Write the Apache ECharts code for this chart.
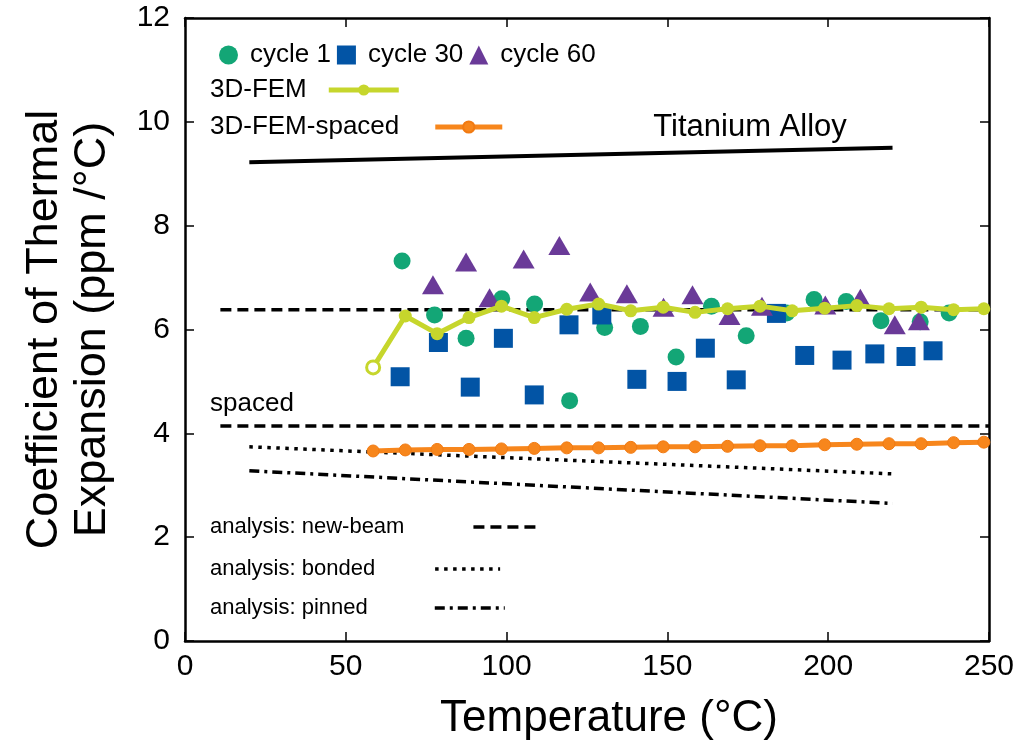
<!DOCTYPE html>
<html>
<head>
<meta charset="utf-8">
<script src="https://cdn.jsdelivr.net/npm/echarts@6/dist/echarts.min.js"></script>
<style>
  html, body { margin: 0; padding: 0; background: #fff; }
  #chart { width: 1017px; height: 748px; }
</style>
</head>
<body>
<div id="chart"></div>
<script>
(function () {
  var FONT = 'Arial, "Liberation Sans", Helvetica, sans-serif';
  var LIME = '#c6d62c';
  var ORANGE = '#f7861c';

  var cycle1Temp = [67.5, 77.6, 87.4, 98.5, 108.7, 119.6, 130.5, 141.6, 152.7, 163.7, 174.5, 187.1, 195.6, 205.6, 216.4, 228.6, 237.6];
  var cycle1Cte = [7.32, 6.28, 5.83, 6.59, 6.49, 4.63, 6.04, 6.06, 5.47, 6.45, 5.88, 6.32, 6.58, 6.54, 6.17, 6.15, 6.32];

  var cycle30Temp = [66.9, 78.8, 88.7, 99.0, 108.6, 119.4, 129.6, 140.5, 153.0, 161.8, 171.4, 183.9, 192.7, 204.3, 214.5, 224.2, 232.6];
  var cycle30Cte = [5.09, 5.75, 4.89, 5.83, 4.74, 6.09, 6.28, 5.04, 5.00, 5.64, 5.03, 6.31, 5.50, 5.41, 5.53, 5.48, 5.59];

  var cycle60Temp = [77.1, 87.4, 94.7, 105.3, 116.4, 126.0, 137.4, 148.8, 157.8, 169.3, 179.4, 199.1, 210.0, 220.7, 228.2];
  var cycle60Cte = [6.86, 7.30, 6.61, 7.36, 7.62, 6.72, 6.69, 6.43, 6.67, 6.27, 6.45, 6.47, 6.60, 6.09, 6.17];

  // simulations
  var femTemp = [58.5, 68.5, 78.4, 88.3, 98.4, 108.6, 118.7, 128.6, 138.6, 148.7, 158.6, 168.7, 178.8, 188.8, 198.9, 208.9, 218.9, 228.9, 239.0, 248.4];
  var femCte = [5.27, 6.26, 5.92, 6.23, 6.45, 6.23, 6.39, 6.49, 6.36, 6.43, 6.33, 6.40, 6.45, 6.36, 6.41, 6.46, 6.40, 6.43, 6.38, 6.40];
  var femSpacedCte = [3.66, 3.68, 3.69, 3.69, 3.70, 3.71, 3.72, 3.72, 3.73, 3.74, 3.74, 3.75, 3.76, 3.76, 3.78, 3.79, 3.80, 3.80, 3.82, 3.83];

  // analysis lines (end points)
  var newBeamTemp = [11, 250];
  var newBeamCte = [6.38, 6.38];
  var spacedTemp = [11, 250];
  var spacedCte = [4.14, 4.14];
  var bondedTemp = [20, 220];
  var bondedCte = [3.74, 3.22];
  var pinnedTemp = [20, 220];
  var pinnedCte = [3.28, 2.65];
  var titaniumTemp = [20, 220];
  var titaniumCte = [9.22, 9.50];

  function pairs(xs, ys) {
    return xs.map(function (x, i) { return [x, ys[i]]; });
  }

  var chart = echarts.init(document.getElementById('chart'));

  var axisLine = { show: true, onZero: false, lineStyle: { color: '#000', width: 2.5 } };
  var axisTick = { show: true, inside: true, length: 9, lineStyle: { color: '#000', width: 1.5 } };
  var tickFont = { fontSize: 30, color: '#000', fontFamily: FONT };

  function refLine(name, xs, ys, type, width) {
    return {
      name: name,
      type: 'line',
      data: pairs(xs, ys),
      symbol: 'none',
      silent: true,
      lineStyle: { color: '#000', width: width, type: type },
      itemStyle: { color: '#000' },
      z: 1
    };
  }

  function lineLegend(name, top, fontSize, iconW, gap, lineStyle, hideSymbol) {
    return {
      data: [name],
      align: 'right',
      left: 210,
      top: top,
      padding: 0,
      itemWidth: iconW,
      itemHeight: 14,
      selectedMode: false,
      itemStyle: hideSymbol ? { opacity: 0 } : {},
      lineStyle: lineStyle,
      textStyle: { fontSize: fontSize, color: '#000', fontFamily: FONT, padding: [0, gap, 0, 0] }
    };
  }

  var fem = pairs(femTemp, femCte);
  fem[0] = { value: fem[0], itemStyle: { color: '#fff', borderColor: LIME, borderWidth: 3 } };

  var option = {
    animation: false,
    textStyle: { fontFamily: FONT },
    grid: { left: 185, right: 28, top: 18, bottom: 107, outerBoundsMode: 'none' },
    xAxis: [{
      type: 'value', min: 0, max: 250, interval: 50, position: 'bottom',
      axisLine: axisLine, axisTick: axisTick, splitLine: { show: false },
      axisLabel: Object.assign({ margin: 11 }, tickFont),
      name: 'Temperature (°C)', nameLocation: 'middle', nameGap: 56,
      nameTextStyle: { fontSize: 44, color: '#000', fontFamily: FONT, padding: [0, 0, 0, 44] }
    }, {
      type: 'value', min: 0, max: 250, interval: 50, position: 'top',
      axisLine: axisLine, axisTick: axisTick, splitLine: { show: false },
      axisLabel: { show: false }
    }],
    yAxis: [{
      type: 'value', min: 0, max: 12, interval: 2, position: 'left',
      axisLine: axisLine, axisTick: axisTick, splitLine: { show: false },
      axisLabel: Object.assign({ margin: 15 }, tickFont),
      name: 'Coefficient of Thermal\nExpansion (ppm /°C)', nameLocation: 'middle', nameRotate: 90, nameGap: 68,
      nameTextStyle: { fontSize: 45, lineHeight: 48, color: '#000', fontFamily: FONT }
    }, {
      type: 'value', min: 0, max: 12, interval: 2, position: 'right',
      axisLine: axisLine, axisTick: axisTick, splitLine: { show: false },
      axisLabel: { show: false }
    }],
    legend: [
      {
        data: ['cycle 1', 'cycle 30', 'cycle 60'],
        left: 219, top: 42, padding: 0,
        itemWidth: 19, itemHeight: 19, itemGap: 6,
        selectedMode: false,
        textStyle: { fontSize: 26, color: '#000', fontFamily: FONT, padding: [0, 0, 0, 7] }
      },
      lineLegend('3D-FEM', 77, 26, 70, 17, { width: 5 }, false),
      lineLegend('3D-FEM-spaced', 114, 26, 67, 31, { width: 5 }, false),
      lineLegend('analysis: new-beam', 516, 22, 68, 64, { width: 3.5, type: [11, 6], color: '#000' }, true),
      lineLegend('analysis: bonded', 558, 22, 65, 55, { width: 3.5, type: [3.5, 5.5], color: '#000' }, true),
      lineLegend('analysis: pinned', 597, 22, 70, 62, { width: 3.5, type: [10, 5, 3, 5], color: '#000' }, true)
    ],
    series: [
      refLine('analysis: new-beam', newBeamTemp, newBeamCte, [11, 6], 3.5),
      refLine('analysis: new-beam', spacedTemp, spacedCte, [11, 6], 3.5),
      refLine('analysis: bonded', bondedTemp, bondedCte, [3.5, 5.5], 3.5),
      refLine('analysis: pinned', pinnedTemp, pinnedCte, [10, 5, 3, 5], 3.5),
      refLine('Titanium Alloy', titaniumTemp, titaniumCte, 'solid', 4),
      {
        name: '3D-FEM-spaced', type: 'line', data: pairs(femTemp, femSpacedCte),
        symbol: 'circle', symbolSize: 12,
        lineStyle: { color: ORANGE, width: 5 },
        itemStyle: { color: ORANGE, borderColor: '#f17a12', borderWidth: 1 },
        z: 3
      },
      {
        name: 'cycle 1', type: 'scatter', data: pairs(cycle1Temp, cycle1Cte),
        symbol: 'circle', symbolSize: 17, itemStyle: { color: '#13a676', opacity: 1 }, z: 2
      },
      {
        name: 'cycle 30', type: 'scatter', data: pairs(cycle30Temp, cycle30Cte),
        symbol: 'rect', symbolSize: 19, itemStyle: { color: '#0254a5', opacity: 1 }, z: 2
      },
      {
        name: 'cycle 60', type: 'scatter', data: pairs(cycle60Temp, cycle60Cte),
        symbol: 'triangle', symbolSize: [22, 19], itemStyle: { color: '#6a3a98', opacity: 1 }, z: 2
      },
      {
        name: '3D-FEM', type: 'line', data: fem,
        symbol: 'circle', symbolSize: 13,
        lineStyle: { color: LIME, width: 5 },
        itemStyle: { color: LIME },
        z: 4
      }
    ]
  };

  chart.setOption(option);

  // text annotations anchored in data space
  var spacedAt = chart.convertToPixel({ gridIndex: 0 }, [7.8, 4.57]);
  var titaniumAt = chart.convertToPixel({ gridIndex: 0 }, [145.6, 9.9]);
  chart.setOption({
    graphic: [
      { type: 'text', x: spacedAt[0], y: spacedAt[1], silent: true,
        style: { text: 'spaced', fontSize: 26, fontFamily: FONT, fill: '#000', verticalAlign: 'middle' } },
      { type: 'text', x: titaniumAt[0], y: titaniumAt[1], silent: true,
        style: { text: 'Titanium Alloy', fontSize: 31, fontFamily: FONT, fill: '#000', verticalAlign: 'middle' } }
    ]
  });
})();
</script>
</body>
</html>
